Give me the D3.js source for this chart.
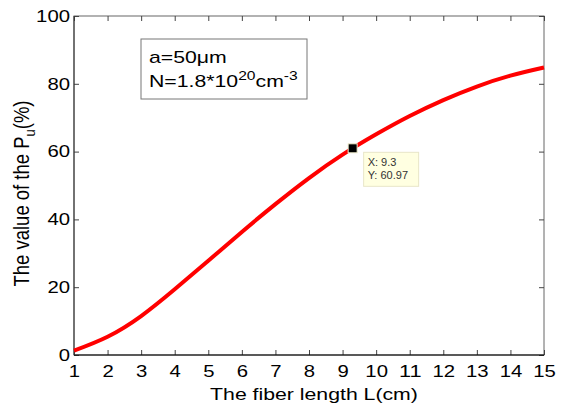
<!DOCTYPE html>
<html>
<head>
<meta charset="utf-8">
<script src="https://cdn.jsdelivr.net/npm/d3@7"></script>
<style>
  body { margin: 0; background: #fff; }
  text { font-family: "Liberation Sans", Arial, sans-serif; }
</style>
</head>
<body>
<div id="chart"></div>
<script>
// fiber length (cm) and Pu (%)
let lengths = [1, 2, 3, 4, 5, 6, 7, 8, 9, 10, 11, 12, 13, 14, 15];
let puValues = [1.3, 5.4, 11.5, 19.4, 27.8, 36.3, 44.5, 52.2, 59.1, 65.1, 70.5, 75.2, 79.2, 82.4, 84.8];
let xTicks = [1, 2, 3, 4, 5, 6, 7, 8, 9, 10, 11, 12, 13, 14, 15];
let yTicks = [0, 20, 40, 60, 80, 100];
let tipPoint = [9.3, 60.97];

let width = 572, height = 406;
let mLeft = 74, mRight = 544, mTop = 16, mBottom = 355;
let stretch = 1.25; // the source picture is wider than tall

let svg = d3.select("#chart").append("svg")
    .attr("width", width).attr("height", height);

let x = d3.scaleLinear().domain([1, 15]).range([mLeft, mRight]);
let y = d3.scaleLinear().domain([0, 100]).range([mBottom, mTop]);

// frame
svg.append("rect").attr("x", mLeft).attr("y", mTop)
    .attr("width", mRight - mLeft).attr("height", mBottom - mTop)
    .attr("fill", "none").attr("stroke", "#666").attr("stroke-width", 1);

// axes with inward ticks (matlab style)
let xb = svg.append("g").attr("transform", `translate(0,${mBottom})`)
    .call(d3.axisBottom(x).tickValues(xTicks).tickSize(-5).tickPadding(10).tickFormat(d3.format("d")));
let xt = svg.append("g").attr("transform", `translate(0,${mTop})`)
    .call(d3.axisTop(x).tickValues(xTicks).tickSize(-5).tickFormat(""));
let yl = svg.append("g").attr("transform", `translate(${mLeft},0)`)
    .call(d3.axisLeft(y).tickValues(yTicks).tickSize(-5).tickPadding(4));
let yr = svg.append("g").attr("transform", `translate(${mRight},0)`)
    .call(d3.axisRight(y).tickValues(yTicks).tickSize(-5).tickFormat(""));

[xb, xt, yl, yr].forEach(g => {
    g.select(".domain").remove();
    g.selectAll(".tick line").attr("stroke", "#444");
    g.selectAll(".tick text").attr("fill", "#000").style("font-size", "16.5px")
        .style("font-family", "'Liberation Sans', Arial, sans-serif")
        .attr("textLength", function () { return this.textContent.length * 11.3; })
        .attr("lengthAdjust", "spacingAndGlyphs");
});
// bottom and left axis lines darker
svg.append("line").attr("x1", mLeft).attr("x2", mRight).attr("y1", mBottom).attr("y2", mBottom)
    .attr("stroke", "#000").attr("stroke-width", 1.2);
svg.append("line").attr("x1", mLeft).attr("x2", mLeft).attr("y1", mTop).attr("y2", mBottom)
    .attr("stroke", "#333").attr("stroke-width", 1);

// curve
let line = d3.line().x((d, i) => x(lengths[i])).y(d => y(d)).curve(d3.curveNatural);
svg.append("path").datum(puValues)
    .attr("d", line)
    .attr("fill", "none").attr("stroke", "#ff0000").attr("stroke-width", 4);

// text helper: horizontally widened text
function wideText(px, py, size, anchor) {
    return svg.append("g").attr("transform", `translate(${px},${py}) scale(${stretch},1)`)
        .append("text").attr("text-anchor", anchor || "start").style("font-size", size + "px");
}

// axis labels
wideText(314, 400, 17, "middle").text("The fiber length L(cm)");

let yLab = svg.append("g").attr("transform", `translate(29,193.5) scale(1.15,1) rotate(-90)`)
    .append("text").attr("text-anchor", "middle").style("font-size", "18.5px");
yLab.append("tspan").text("The value of the P");
yLab.append("tspan").attr("dy", 5).style("font-size", "13px").text("u");
yLab.append("tspan").attr("dy", -5).text("(%)");

// annotation box
svg.append("rect").attr("x", 141).attr("y", 39).attr("width", 166).attr("height", 60)
    .attr("fill", "#fff").attr("stroke", "#777").attr("stroke-width", 1);
let t1 = wideText(149, 62.5, 17);
t1.append("tspan").text("a=50");
t1.append("tspan").text("μm");
let t2 = wideText(149, 87, 17);
t2.append("tspan").text("N=1.8*10");
t2.append("tspan").attr("dy", -7).style("font-size", "12.5px").text("20");
t2.append("tspan").attr("dy", 7).text("cm");
t2.append("tspan").attr("dy", -7).style("font-size", "12.5px").text("-3");

// data tip
let tx = x(tipPoint[0]), ty = y(tipPoint[1]);
svg.append("rect").attr("x", tx + 11).attr("y", ty + 4).attr("width", 55).attr("height", 34)
    .attr("fill", "#ffffe1").attr("stroke", "#e8e6c8").attr("stroke-width", 1);
svg.append("text").attr("x", tx + 15).attr("y", ty + 18).style("font-size", "11px").attr("fill", "#333")
    .text("X: " + tipPoint[0]);
svg.append("text").attr("x", tx + 15).attr("y", ty + 31).style("font-size", "11px").attr("fill", "#333")
    .text("Y: " + tipPoint[1]);
svg.append("rect").attr("x", tx - 4.5).attr("y", ty - 4.5).attr("width", 9).attr("height", 9)
    .attr("fill", "#000").attr("stroke", "#f2efd0").attr("stroke-width", 1);
</script>
</body>
</html>
